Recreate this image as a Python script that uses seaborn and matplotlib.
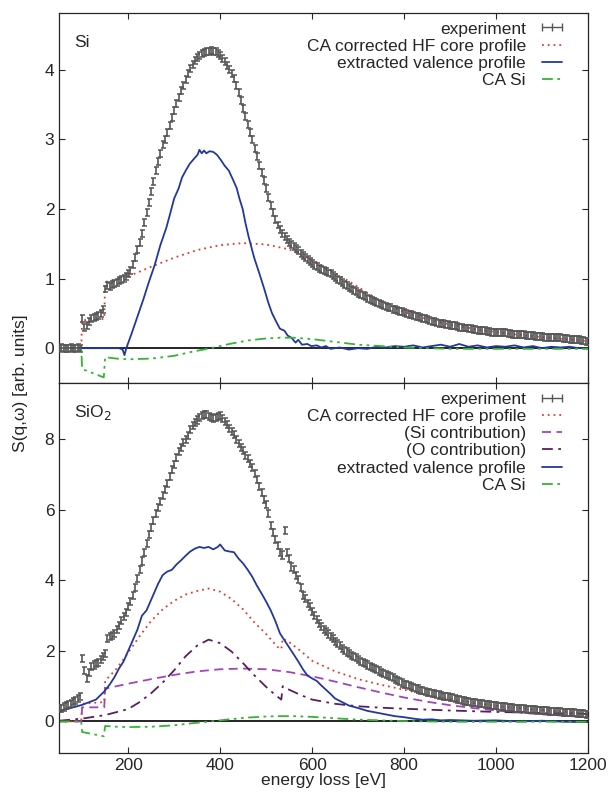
import numpy as np
import pandas as pd
import matplotlib
matplotlib.use("Agg")
import matplotlib.pyplot as plt
from matplotlib.lines import Line2D
import seaborn as sns

# energy grid of the measured points (eV)
exp_energy = np.arange(50, 1201, 5)

# Si experiment
exp_si = [0.0, 0.01, 0.0, -0.01, 0.0, 0.01, 0.0, 0.0, 0.01, 0.0,
          0.42, 0.30, 0.33, 0.38, 0.42, 0.44, 0.45, 0.47, 0.50, 0.55,
          0.85, 0.90, 0.88, 0.92, 0.93, 0.95, 0.97, 0.98, 1.00, 1.03,
          1.07, 1.12, 1.20, 1.30, 1.42, 1.52, 1.65, 1.80, 1.95, 2.10,
          2.25, 2.40, 2.55, 2.68, 2.80, 2.92, 3.00, 3.10, 3.20, 3.32,
          3.42, 3.52, 3.60, 3.70, 3.78, 3.86, 3.95, 4.02, 4.08, 4.13,
          4.18, 4.21, 4.24, 4.25, 4.27, 4.26, 4.28, 4.27, 4.26, 4.23,
          4.20, 4.16, 4.12, 4.06, 4.00, 3.95, 3.88, 3.78, 3.68, 3.56,
          3.45, 3.33, 3.22, 3.10, 3.00, 2.87, 2.75, 2.63, 2.52, 2.41,
          2.30, 2.17, 2.05, 1.95, 1.85, 1.77, 1.70, 1.65, 1.60, 1.56,
          1.52, 1.49, 1.46, 1.43, 1.40, 1.36, 1.33, 1.30, 1.27, 1.24,
          1.21, 1.19, 1.17, 1.15, 1.13, 1.12, 1.10, 1.08, 1.07, 1.04,
          1.02, 0.99, 0.97, 0.94, 0.92, 0.90, 0.87, 0.85, 0.83, 0.81,
          0.79, 0.77, 0.76, 0.74, 0.72, 0.70, 0.69, 0.67, 0.66, 0.64,
          0.63, 0.61, 0.60, 0.59, 0.58, 0.56, 0.55, 0.54, 0.53, 0.52,
          0.51, 0.50, 0.49, 0.48, 0.47, 0.46, 0.45, 0.44, 0.43, 0.42,
          0.41, 0.40, 0.39, 0.38, 0.37, 0.36, 0.35, 0.35, 0.34, 0.34,
          0.33, 0.32, 0.32, 0.31, 0.30, 0.30, 0.29, 0.29, 0.28, 0.28,
          0.27, 0.27, 0.26, 0.26, 0.25, 0.25, 0.24, 0.24, 0.23, 0.23,
          0.23, 0.22, 0.22, 0.22, 0.22, 0.21, 0.21, 0.20, 0.20, 0.20,
          0.19, 0.19, 0.19, 0.18, 0.18, 0.18, 0.18, 0.17, 0.17, 0.17,
          0.17, 0.16, 0.16, 0.16, 0.16, 0.15, 0.15, 0.15, 0.15, 0.14,
          0.14, 0.14, 0.13, 0.13, 0.13, 0.12, 0.12, 0.11, 0.11, 0.10,
          0.10]
err_si = 0.05

# SiO2 experiment
exp_sio2 = [0.36, 0.38, 0.41, 0.44, 0.48, 0.52, 0.56, 0.60, 0.64, 0.70,
            1.78, 1.45, 1.22, 1.40, 1.55, 1.60, 1.65, 1.68, 1.75, 1.85,
            1.92, 2.35, 2.40, 2.45, 2.50, 2.60, 2.72, 2.85, 2.98, 3.10,
            3.25, 3.40, 3.58, 3.80, 4.05, 4.30, 4.55, 4.80, 5.05, 5.30,
            5.50, 5.70, 5.90, 6.08, 6.25, 6.40, 6.58, 6.75, 6.95, 7.15,
            7.30, 7.48, 7.65, 7.78, 7.90, 8.00, 8.12, 8.28, 8.40, 8.48,
            8.55, 8.62, 8.68, 8.70, 8.70, 8.65, 8.62, 8.60, 8.62, 8.66,
            8.68, 8.60, 8.50, 8.42, 8.30, 8.22, 8.15, 8.00, 7.88, 7.78,
            7.68, 7.55, 7.45, 7.32, 7.20, 7.02, 6.85, 6.65, 6.50, 6.30,
            6.15, 5.90, 5.55, 5.35, 5.15, 5.00, 4.80, 4.72, 5.42, 4.78,
            4.62, 4.38, 4.30, 4.15, 4.02, 3.80, 3.58, 3.50, 3.35, 3.25,
            3.12, 3.00, 2.88, 2.78, 2.70, 2.62, 2.55, 2.48, 2.40, 2.34,
            2.28, 2.22, 2.15, 2.08, 2.02, 1.97, 1.92, 1.88, 1.84, 1.80,
            1.75, 1.71, 1.67, 1.63, 1.60, 1.56, 1.53, 1.50, 1.46, 1.43,
            1.40, 1.37, 1.34, 1.31, 1.28, 1.24, 1.20, 1.16, 1.12, 1.09,
            1.06, 1.04, 1.02, 0.99, 0.97, 0.94, 0.92, 0.89, 0.87, 0.85,
            0.83, 0.81, 0.79, 0.78, 0.76, 0.75, 0.73, 0.72, 0.71, 0.70,
            0.68, 0.67, 0.65, 0.63, 0.62, 0.60, 0.58, 0.57, 0.56, 0.55,
            0.54, 0.53, 0.52, 0.51, 0.50, 0.49, 0.48, 0.47, 0.46, 0.45,
            0.44, 0.43, 0.42, 0.42, 0.41, 0.40, 0.39, 0.39, 0.38, 0.38,
            0.37, 0.36, 0.36, 0.35, 0.34, 0.34, 0.33, 0.33, 0.32, 0.32,
            0.31, 0.30, 0.30, 0.29, 0.29, 0.28, 0.28, 0.27, 0.27, 0.26,
            0.26, 0.25, 0.25, 0.24, 0.24, 0.23, 0.23, 0.22, 0.22, 0.21,
            0.21]
err_sio2 = 0.1

# Si: CA corrected HF core profile
core_si_e = [50, 98, 100, 148, 150, 200, 250, 300, 350, 400, 450, 500, 550,
             600, 650, 700, 750, 800, 850, 900, 950, 1000, 1050, 1100, 1150, 1200]
core_si = [0, 0, 0.40, 0.42, 0.95, 1.03, 1.17, 1.30, 1.41, 1.48, 1.51, 1.49, 1.42,
           1.27, 1.08, 0.88, 0.67, 0.52, 0.42, 0.34, 0.28, 0.23, 0.19, 0.16, 0.13, 0.10]

# Si: extracted valence profile
val_si_e = [50, 100, 150, 180, 188, 192, 196, 207, 220, 233, 245, 258, 270, 283,
            290, 300, 310, 317, 325, 334, 343, 351, 355, 360, 365, 370, 377, 385,
            393, 402, 410, 419, 428, 436, 442, 449, 455, 462, 468, 474, 485, 496,
            505, 513, 522, 530, 540, 547, 555, 564, 570, 578, 590, 598, 610, 620,
            630, 640, 660, 680, 700, 720, 740, 760, 780, 800, 820, 840, 860, 880,
            900, 920, 940, 960, 980, 1000, 1020, 1040, 1060, 1080, 1100, 1120,
            1140, 1160, 1180, 1200]
val_si = [0, 0, 0, 0, -0.02, -0.10, 0.0, 0.20, 0.45, 0.70, 0.95, 1.20, 1.48, 1.73,
          1.90, 2.15, 2.30, 2.45, 2.55, 2.65, 2.72, 2.78, 2.85, 2.80, 2.84, 2.80,
          2.83, 2.82, 2.78, 2.70, 2.62, 2.55, 2.42, 2.30, 2.15, 2.00, 1.80, 1.60,
          1.45, 1.30, 1.08, 0.85, 0.65, 0.50, 0.38, 0.28, 0.25, 0.18, 0.15, 0.08,
          0.12, 0.05, 0.06, 0.03, 0.04, 0.01, 0.03, -0.01, 0.01, -0.02, 0.0, -0.01,
          0.02, 0.01, 0.03, 0.02, 0.04, 0.01, 0.03, 0.05, 0.02, 0.06, 0.02, 0.04,
          0.01, 0.03, 0.02, 0.04, 0.01, 0.03, 0.0, 0.02, 0.01, 0.02, 0.0, 0.0]

# CA Si (same in both panels)
ca_si_e = [50, 98, 100, 147, 150, 175, 200, 250, 300, 340, 380, 420, 460, 500,
           530, 560, 600, 650, 700, 750, 800, 850, 900, 1000, 1100, 1200]
ca_si = [0, 0, -0.30, -0.42, -0.13, -0.15, -0.16, -0.15, -0.11, -0.05, 0.0, 0.06,
         0.11, 0.14, 0.15, 0.15, 0.13, 0.09, 0.05, 0.03, 0.01, 0.0, -0.01, -0.01,
         -0.01, -0.01]

# SiO2: CA corrected HF core profile
core_sio2_e = [50, 98, 100, 148, 150, 175, 200, 225, 250, 275, 300, 325, 350, 375,
               400, 425, 450, 475, 500, 525, 533, 536, 550, 575, 600, 650, 700,
               750, 800, 850, 900, 950, 1000, 1050, 1100, 1150, 1200]
core_sio2 = [0, 0, 0.50, 0.55, 1.15, 1.50, 1.95, 2.42, 2.85, 3.18, 3.42, 3.60,
             3.70, 3.77, 3.68, 3.47, 3.18, 2.80, 2.48, 2.11, 2.05, 2.35, 2.25,
             2.00, 1.72, 1.42, 1.20, 1.04, 0.90, 0.75, 0.63, 0.53, 0.44, 0.38,
             0.32, 0.27, 0.22]

# SiO2: Si contribution
si_part_e = [50, 98, 100, 148, 150, 200, 250, 300, 350, 400, 450, 500, 550, 600,
             650, 700, 750, 800, 850, 900, 950, 1000, 1050, 1100, 1150, 1200]
si_part = [0, 0, 0.40, 0.40, 0.93, 1.07, 1.20, 1.32, 1.42, 1.48, 1.50, 1.48, 1.40,
           1.28, 1.13, 0.97, 0.82, 0.68, 0.56, 0.46, 0.38, 0.31, 0.25, 0.20, 0.16, 0.12]

# SiO2: O contribution
o_part_e = [50, 100, 150, 200, 225, 250, 275, 300, 325, 350, 375, 400, 425, 450,
            475, 500, 520, 533, 536, 550, 575, 600, 650, 700, 750, 800, 900, 1000,
            1100, 1200]
o_part = [0.02, 0.08, 0.18, 0.35, 0.55, 0.80, 1.10, 1.45, 1.85, 2.15, 2.32, 2.22,
          1.98, 1.65, 1.30, 0.98, 0.75, 0.62, 1.00, 0.90, 0.75, 0.62, 0.50, 0.43,
          0.39, 0.36, 0.31, 0.27, 0.24, 0.21]

# SiO2: extracted valence profile
val_sio2_e = [50, 70, 100, 130, 148, 160, 170, 180, 190, 200, 210, 220, 230, 240,
              255, 265, 275, 285, 295, 305, 315, 325, 335, 345, 355, 365, 375, 385,
              395, 400, 410, 420, 430, 440, 450, 460, 470, 480, 490, 500, 510, 520,
              530, 540, 550, 560, 570, 580, 590, 600, 610, 620, 630, 640, 650, 665,
              680, 700, 720, 740, 760, 780, 800, 820, 840, 860, 880, 900, 950, 1000,
              1050, 1100, 1150, 1200]
val_sio2 = [0.30, 0.36, 0.47, 0.62, 0.85, 1.05, 1.25, 1.50, 1.70, 2.00, 2.30, 2.60,
            3.00, 3.15, 3.60, 3.90, 4.15, 4.25, 4.30, 4.45, 4.57, 4.70, 4.82, 4.90,
            4.95, 4.92, 4.95, 4.88, 4.95, 5.02, 4.85, 4.82, 4.80, 4.62, 4.48, 4.30,
            4.10, 3.85, 3.63, 3.40, 3.15, 2.85, 2.50, 2.30, 2.10, 1.90, 1.70, 1.48,
            1.30, 1.22, 1.15, 1.02, 0.90, 0.78, 0.65, 0.55, 0.45, 0.38, 0.30, 0.25,
            0.20, 0.15, 0.12, 0.08, 0.05, 0.06, 0.03, 0.04, 0.02, 0.03, 0.0, 0.02,
            -0.01, -0.02]

c_exp = "#555555"
c_core = "#e03a2e"
c_si = "#a444b8"
c_o = "#5a1e5e"
c_val = "#23389c"
c_ca = "#33b533"
fs = 12.5

sns.set_style("ticks")
plt.rcParams["font.family"] = ["Liberation Sans", "DejaVu Sans"]
plt.rcParams["font.size"] = fs
plt.rcParams["xtick.direction"] = "in"
plt.rcParams["ytick.direction"] = "in"

fig, (ax1, ax2) = plt.subplots(2, 1, figsize=(6.1, 7.97), dpi=100, sharex=True)
fig.subplots_adjust(left=0.097, right=0.964, top=0.984, bottom=0.055, hspace=0)


def draw_line(ax, e, v, color, ls, label):
    df = pd.DataFrame({"E": e, "S": v})
    sns.lineplot(data=df, x="E", y="S", ax=ax, color=color, linestyle=ls, lw=1.3,
                 label=label, sort=False, estimator=None)


def draw_exp(ax, v, err):
    ax.errorbar(exp_energy, v, yerr=err, fmt="none", ecolor=c_exp,
                elinewidth=1.2, capsize=1.8, capthick=1.1, zorder=3)


dot = (0, (1, 2.2))
dash = (0, (5, 3))
dashdot = (0, (6, 3, 1.5, 3))
dashdotdot = (0, (6, 2.5, 1.5, 2.5, 1.5, 2.5))

exp_handle = Line2D([], [], color=c_exp, lw=1.0, marker="|", markersize=6,
                    markeredgewidth=1.0)

# top panel: Si
ax1.axhline(0, color="black", lw=1.2, zorder=1)
draw_exp(ax1, exp_si, err_si)
draw_line(ax1, core_si_e, core_si, c_core, dot, "CA corrected HF core profile")
draw_line(ax1, val_si_e, val_si, c_val, "-", "extracted valence profile")
draw_line(ax1, ca_si_e, ca_si, c_ca, dashdotdot, "CA Si")
ax1.set_ylim(-0.5, 4.82)
ax1.set_yticks([0, 1, 2, 3, 4])
ax1.text(0.028, 0.92, "Si", transform=ax1.transAxes, fontsize=fs, va="center")

# bottom panel: SiO2
ax2.axhline(0, color="black", lw=1.2, zorder=1)
draw_exp(ax2, exp_sio2, err_sio2)
draw_line(ax2, core_sio2_e, core_sio2, c_core, dot, "CA corrected HF core profile")
draw_line(ax2, si_part_e, si_part, c_si, dash, "(Si contribution)")
draw_line(ax2, o_part_e, o_part, c_o, dashdot, "(O contribution)")
draw_line(ax2, val_sio2_e, val_sio2, c_val, "-", "extracted valence profile")
draw_line(ax2, ca_si_e, ca_si, c_ca, dashdotdot, "CA Si")
ax2.set_ylim(-0.9, 9.6)
ax2.set_yticks([0, 2, 4, 6, 8])
ax2.text(0.028, 0.92, "SiO$_2$", transform=ax2.transAxes, fontsize=fs, va="center")

ax2.set_xlim(50, 1200)
ax2.set_xticks([200, 400, 600, 800, 1000, 1200])
ax2.set_xlabel("energy loss [eV]", labelpad=0, fontsize=fs)

for ax in (ax1, ax2):
    ax.set_ylabel("")
    ax.tick_params(top=True, right=True, length=4, width=0.8, labelsize=fs)
    for s in ax.spines.values():
        s.set_linewidth(0.9)
    handles, labels = ax.get_legend_handles_labels()
    ax.legend([exp_handle] + handles, ["experiment"] + labels,
              loc="upper right", bbox_to_anchor=(0.972, 0.993), frameon=False,
              markerfirst=False, numpoints=3, labelspacing=0.12,
              handlelength=1.75, handletextpad=0.63, borderaxespad=0,
              borderpad=0.35, fontsize=fs)

fig.text(0.033, 0.519, "S(q,\u03c9) [arb. units]", rotation=90, va="center",
         ha="center", fontsize=fs)

fig.savefig("out.png", dpi=100)
